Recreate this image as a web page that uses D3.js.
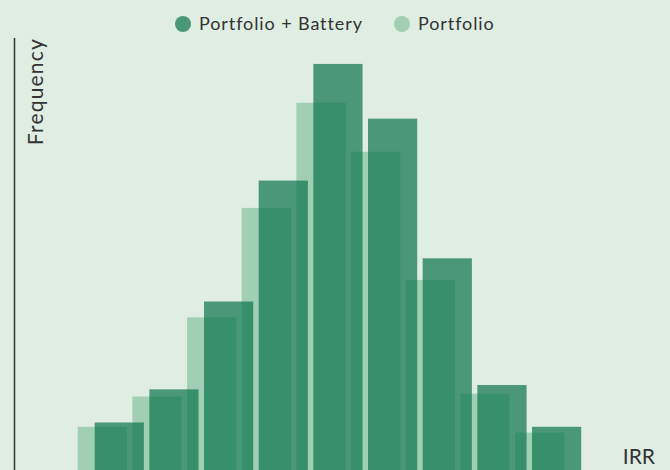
<!DOCTYPE html>
<html>
<head>
<meta charset="utf-8">
<script src="https://cdn.jsdelivr.net/npm/d3@7"></script>
<style>
  html, body { margin: 0; padding: 0; background: #dfede3; }
  svg { display: block; font-family: Lato, "Open Sans", sans-serif; }
  .lbl { fill: #333; letter-spacing: 1px; }
</style>
</head>
<body>
<div id="figure"></div>
<script>
// IRR bins (x axis itself is below the visible area)
const bins = ["b1", "b2", "b3", "b4", "b5", "b6", "b7", "b8", "b9"];
// frequencies
const portfolio = [30, 51, 106, 182, 255, 221, 132, 53, 26];
const portfolioBattery = [33, 56, 117, 201, 282, 244, 147, 59, 30];
const seriesNames = ["Portfolio + Battery", "Portfolio"];

const width = 670;
const height = 470;
const margin = { top: 38, right: 103, bottom: 0, left: 75 };

const svg = d3.select("#figure")
    .append("svg")
    .attr("width", width)
    .attr("height", height);

const x = d3.scaleBand()
    .domain(bins)
    .range([margin.left, margin.left + 492])
    .paddingInner(0.1)
    .paddingOuter(0.05);

const y = d3.scaleLinear()
    .domain([0, 300])
    .range([height - margin.bottom, margin.top]);

const offset = x.step() * 0.31;

const lightFill = "#a1cfb4";
const darkFill = "#0a734b";
const darkOpacity = 0.7;

// Portfolio bars (behind)
svg.append("g")
    .selectAll("rect")
    .data(portfolio)
    .join("rect")
    .attr("x", (d, i) => x(bins[i]))
    .attr("y", d => y(d))
    .attr("width", x.bandwidth())
    .attr("height", d => y(0) - y(d))
    .attr("fill", lightFill);

// Portfolio + Battery bars (on top, translucent)
svg.append("g")
    .selectAll("rect")
    .data(portfolioBattery)
    .join("rect")
    .attr("x", (d, i) => x(bins[i]) + offset)
    .attr("y", d => y(d))
    .attr("width", x.bandwidth())
    .attr("height", d => y(0) - y(d))
    .attr("fill", darkFill)
    .attr("fill-opacity", darkOpacity);

// y axis line, no ticks
svg.append("line")
    .attr("x1", 14.5).attr("x2", 14.5)
    .attr("y1", margin.top).attr("y2", height)
    .attr("stroke", "#333")
    .attr("stroke-width", 1.5);

svg.append("text")
    .attr("class", "lbl")
    .attr("transform", `translate(43,${margin.top}) rotate(-90)`)
    .attr("text-anchor", "end")
    .style("font-size", "21px")
    .style("letter-spacing", "1.2px")
    .text("Frequency");

svg.append("text")
    .attr("class", "lbl")
    .attr("x", 655)
    .attr("y", 464)
    .attr("text-anchor", "end")
    .style("font-size", "21px")
    .style("letter-spacing", "0px")
    .text("IRR");

// legend
const legend = svg.append("g").attr("transform", "translate(0,24)");
const legendX = [183, 402];
const legendFill = [darkFill, lightFill];
const legendOpacity = [darkOpacity, 1];

legend.selectAll("circle")
    .data(seriesNames)
    .join("circle")
    .attr("cx", (d, i) => legendX[i])
    .attr("cy", 0)
    .attr("r", 8)
    .attr("fill", (d, i) => legendFill[i])
    .attr("fill-opacity", (d, i) => legendOpacity[i]);

legend.selectAll("text")
    .data(seriesNames)
    .join("text")
    .attr("class", "lbl")
    .attr("x", (d, i) => legendX[i] + 16)
    .attr("y", 6)
    .style("font-size", "18px")
    .style("letter-spacing", "0.9px")
    .text(d => d);
</script>
</body>
</html>
